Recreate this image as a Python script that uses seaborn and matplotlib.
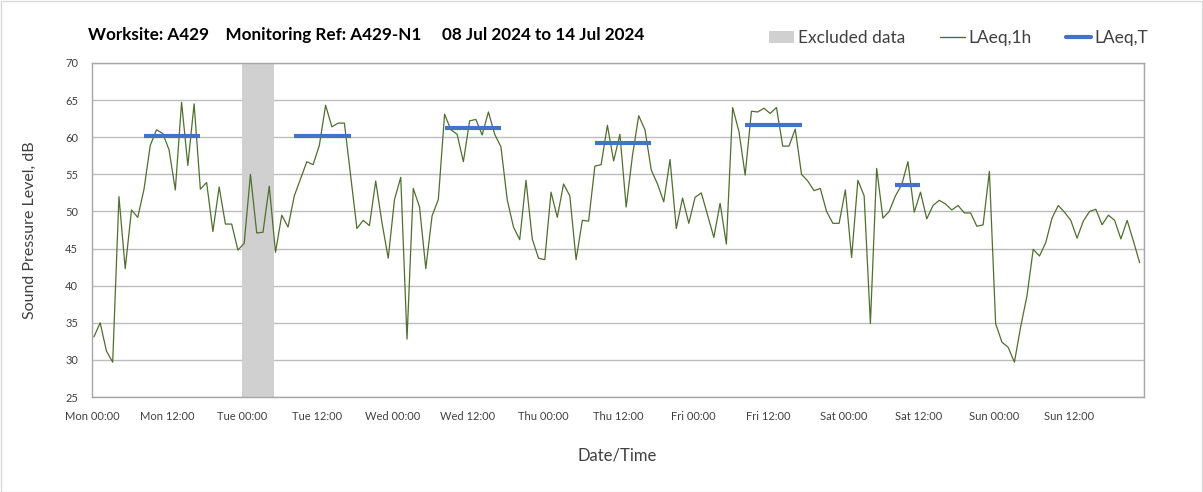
import pandas as pd
import numpy as np
import matplotlib
matplotlib.use("Agg")
import matplotlib.pyplot as plt
import matplotlib.dates as mdates
from matplotlib.patches import Patch, Rectangle
from matplotlib.lines import Line2D
import seaborn as sns

# hourly LAeq,1h values, Mon 08 Jul 00:00 -> Sun 14 Jul 23:00
laeq_1h = [
    33.1, 35.0, 31.2, 29.7, 52.0, 42.3, 50.2, 49.2, 53.0, 58.9, 61.0, 60.5,  # Mon am
    58.3, 52.9, 64.7, 56.2, 64.5, 53.0, 53.9, 47.3, 53.3, 48.3, 48.3, 44.8,  # Mon pm
    45.7, 55.0, 47.1, 47.2, 53.4, 44.5, 49.5, 47.9, 52.1, 54.4, 56.7, 56.3,  # Tue am
    58.9, 64.3, 61.4, 61.9, 61.9, 54.8, 47.7, 48.8, 48.1, 54.1, 48.5, 43.7,  # Tue pm
    51.6, 54.6, 32.8, 53.1, 50.6, 42.3, 49.4, 51.6, 63.1, 61.0, 60.4, 56.7,  # Wed am
    62.2, 62.4, 60.3, 63.4, 60.4, 58.7, 51.6, 47.9, 46.2, 54.2, 46.3, 43.7,  # Wed pm
    43.5, 52.6, 49.2, 53.7, 52.1, 43.5, 48.8, 48.7, 56.1, 56.3, 61.6, 56.8,  # Thu am
    60.4, 50.6, 57.5, 62.9, 61.0, 55.6, 53.7, 51.3, 57.0, 47.7, 51.8, 48.4,  # Thu pm
    51.9, 52.5, 49.5, 46.5, 51.1, 45.6, 64.0, 60.8, 54.9, 63.5, 63.4, 63.9,  # Fri am
    63.2, 64.0, 58.8, 58.8, 61.1, 55.0, 54.1, 52.8, 53.1, 50.0, 48.4, 48.4,  # Fri pm
    52.9, 43.8, 54.2, 52.1, 34.9, 55.8, 49.1, 50.0, 52.1, 53.6, 56.7, 49.9,  # Sat am
    52.6, 49.0, 50.8, 51.5, 51.0, 50.2, 50.8, 49.8, 49.8, 48.0, 48.2, 55.4,  # Sat pm
    34.9, 32.4, 31.7, 29.7, 34.5, 38.6, 44.9, 44.0, 45.8, 49.1, 50.8, 49.9,  # Sun am
    48.8, 46.4, 48.7, 50.0, 50.3, 48.2, 49.5, 48.8, 46.3, 48.8, 46.0, 43.1,  # Sun pm
]

# LAeq,T periods (start, end) and levels
period_start = ["2024-07-08 08:00", "2024-07-09 08:00", "2024-07-10 08:00",
                "2024-07-11 08:00", "2024-07-12 08:00", "2024-07-13 08:00"]
period_end = ["2024-07-08 17:00", "2024-07-09 17:00", "2024-07-10 17:00",
              "2024-07-11 17:00", "2024-07-12 17:00", "2024-07-13 12:00"]
laeq_t = [60.2, 60.1, 61.3, 59.2, 61.7, 53.6]

excluded_start = "2024-07-09 00:00"
excluded_end = "2024-07-09 05:00"

offset = pd.Timedelta(minutes=18)
times = pd.date_range("2024-07-08 00:00", periods=len(laeq_1h), freq="h") + offset
df = pd.DataFrame({"time": times, "level": laeq_1h})

rows = []
for k, (s, e, v) in enumerate(zip(period_start, period_end, laeq_t)):
    for t in pd.date_range(s, e, freq="h"):
        rows.append({"time": t + offset, "level": v, "period": k})
df_t = pd.DataFrame(rows)

sns.set_style("white")
plt.rcParams['font.family'] = ['Lato', 'DejaVu Sans']

fig = plt.figure(figsize=(12.03, 4.92), dpi=100)
ax = fig.add_axes([0.0765, 0.193, 0.8745, 0.679])

ax.axvspan(pd.Timestamp(excluded_start), pd.Timestamp(excluded_end),
           color="#D0D0D0", lw=0, zorder=1)
sns.lineplot(data=df, x="time", y="level", color="#4F6F2F", lw=0.9, ax=ax, zorder=3)
sns.lineplot(data=df_t, x="time", y="level", units="period", estimator=None,
             color="#4472C4", lw=3, ax=ax, zorder=4, solid_capstyle="butt")

ax.set_xlim(pd.Timestamp("2024-07-08 00:00"), pd.Timestamp("2024-07-15 00:00"))
ax.set_ylim(25, 70)
ax.set_yticks(np.arange(25, 71, 5))
ax.set_xticks(pd.date_range("2024-07-08 00:00", "2024-07-14 12:00", freq="12h"))
ax.xaxis.set_major_formatter(mdates.DateFormatter("%a %H:%M"))
ax.xaxis.set_minor_locator(mdates.DayLocator())

ax.grid(axis="y", color="#BDBDBD", lw=1)
ax.grid(axis="x", which="minor", color="#D9D9D9", lw=1)
ax.grid(axis="x", which="major", visible=False)
ax.set_axisbelow(True)

for sp in ax.spines.values():
    sp.set_visible(True)
    sp.set_color("#A6A6A6")
    sp.set_linewidth(1)

ax.tick_params(axis="both", which="major", direction="out", length=4, width=1,
               color="#A6A6A6", labelsize=8, labelcolor="#404040", pad=6)
ax.tick_params(axis="x", which="minor", length=0)
ax.set_xlabel("")
ax.set_ylabel("")

fig.text(0.025, 0.532, "Sound Pressure Level, dB", rotation=90, va="center",
         ha="center", fontsize=11.5, color="#404040")
fig.text(0.513, 0.075, "Date/Time", ha="center", va="center", fontsize=12, color="#404040")
fig.text(0.073, 0.929, "Worksite: A429    Monitoring Ref: A429-N1     08 Jul 2024 to 14 Jul 2024",
         ha="left", va="center", fontsize=12.3, fontweight="bold", color="#000000")

handles = [Patch(facecolor="#D0D0D0", edgecolor="none"),
           Line2D([], [], color="#4F6F2F", lw=1),
           Line2D([], [], color="#4472C4", lw=3)]
fig.legend(handles, ["Excluded data", "LAeq,1h", "LAeq,T"], ncol=3, frameon=False,
           loc="center right", bbox_to_anchor=(0.962, 0.923), fontsize=12.5,
           handlelength=1.45, handletextpad=0.2, columnspacing=2.0,
           labelcolor="#404040", borderpad=0)

fig.patches.append(Rectangle((0.0008, 0.001), 0.9984, 0.997, transform=fig.transFigure,
                             fill=False, edgecolor="#D9D9D9", lw=1))

fig.savefig("out.png", dpi=100)
